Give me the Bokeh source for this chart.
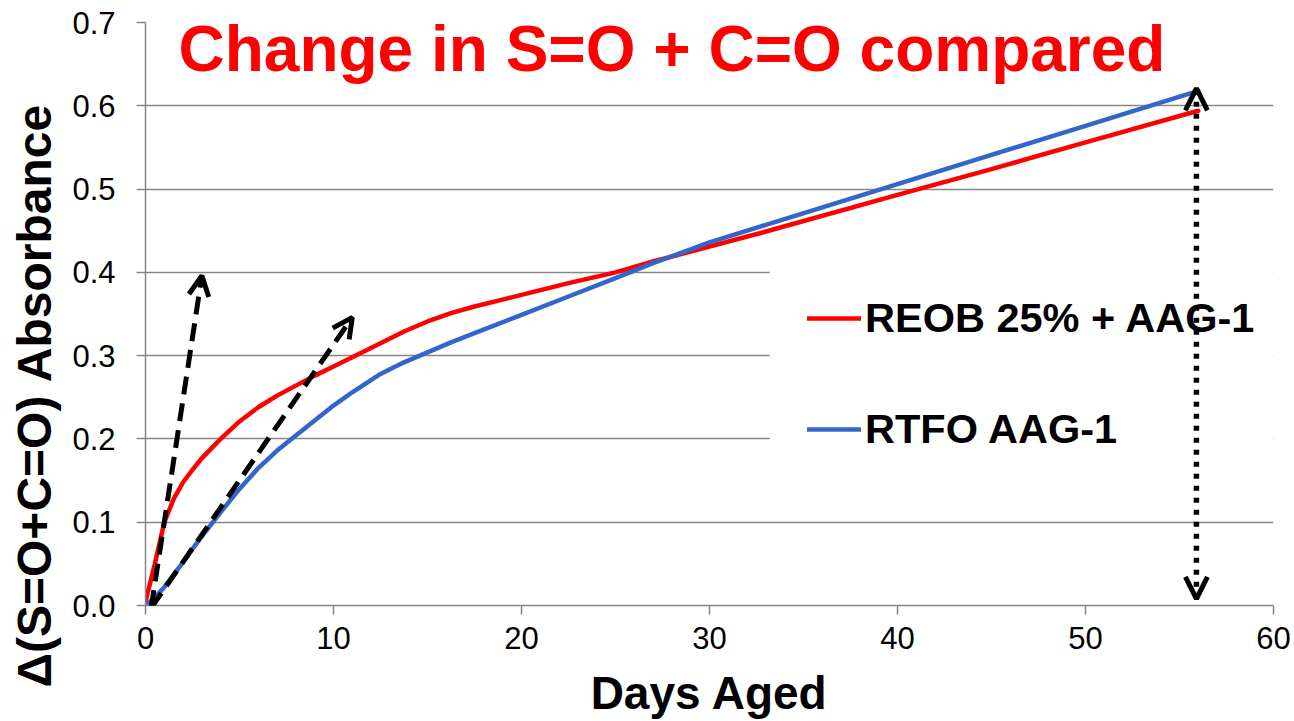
from bokeh.plotting import figure
from bokeh.models import (Range1d, FixedTicker, NumeralTickFormatter, Legend, LegendItem,
                          Label, Arrow, OpenHead, Title, BoxAnnotation)
from bokeh.embed import file_html
from bokeh.resources import INLINE

# ---- data ----
days = [0, 0.5, 1, 1.5, 2, 2.5, 3, 4, 5, 6, 7, 8, 9, 10, 11, 12.5, 13.75, 15, 16.25,
        17.5, 20, 22.5, 25, 27, 30, 33, 40, 45, 50, 56]
reob = [0.005, 0.050, 0.100, 0.128, 0.148, 0.163, 0.177, 0.200, 0.221, 0.238, 0.252,
        0.264, 0.276, 0.287, 0.298, 0.315, 0.329, 0.341, 0.351, 0.359, 0.373, 0.387,
        0.400, 0.413, 0.431, 0.449, 0.493, 0.524, 0.556, 0.594]
rtfo = [0.000, 0.010, 0.022, 0.037, 0.052, 0.068, 0.083, 0.112, 0.140, 0.165, 0.186,
        0.204, 0.222, 0.240, 0.256, 0.278, 0.292, 0.304, 0.316, 0.327, 0.349, 0.371,
        0.393, 0.411, 0.436, 0.457, 0.506, 0.541, 0.576, 0.618]
series_names = ["REOB 25% + AAG-1", "RTFO AAG-1"]
series_colors = ["#FF0000", "#3366CC"]

x_ticks = [0, 10, 20, 30, 40, 50, 60]
y_ticks = [0.0, 0.1, 0.2, 0.3, 0.4, 0.5, 0.6, 0.7]

# dashed arrows (start x, start y, end x, end y)
dash_x0 = [0.3, 0.3]
dash_y0 = [-0.003, -0.003]
dash_x1 = [3.0, 11.0]
dash_y1 = [0.396, 0.346]
# dotted double arrow
dot_x = 55.9
dot_y0 = 0.008
dot_y1 = 0.621

# white background area behind the legend (data units)
legend_bg = dict(left=33.2, right=60, bottom=0.15, top=0.41)

title_text = "Change in S=O + C=O compared"
x_label = "Days Aged"
y_label = "\u0394(S=O+C=O) Absorbance"

FONT = "Liberation Sans"
GRAY = "#868686"

p = figure(width=1292, height=721, output_backend="svg", toolbar_location=None,
           x_range=Range1d(0, 60), y_range=Range1d(0, 0.7),
           min_border_left=145, min_border_right=19, min_border_top=22,
           min_border_bottom=116)
p.outline_line_color = None
p.background_fill_color = "white"
p.border_fill_color = "white"

# axes
for ax in (p.xaxis[0], p.yaxis[0]):
    ax.axis_line_color = GRAY
    ax.axis_line_width = 1.5
    ax.major_tick_line_color = GRAY
    ax.major_tick_line_width = 1.5
    ax.major_tick_out = 9
    ax.major_tick_in = 0
    ax.minor_tick_line_color = None
    ax.major_label_text_font = FONT
    ax.major_label_text_font_size = "31px"
    ax.major_label_text_color = "#000000"

p.xaxis.ticker = FixedTicker(ticks=x_ticks)
p.yaxis.ticker = FixedTicker(ticks=y_ticks)
p.yaxis.formatter = NumeralTickFormatter(format="0.0")
p.xaxis.major_label_standoff = 12
p.yaxis.major_label_standoff = 21

p.xaxis.axis_label = x_label
p.xaxis.axis_label_text_font = FONT
p.xaxis.axis_label_text_font_style = "bold"
p.xaxis.axis_label_text_font_size = "46px"
p.xaxis.axis_label_text_color = "#000000"
p.xaxis.axis_label_standoff = 15

p.xgrid.grid_line_color = None
p.ygrid.grid_line_color = GRAY
p.ygrid.grid_line_width = 1.5

# legend background box (under glyphs and arrows, over the grid)
p.add_layout(BoxAnnotation(left=legend_bg["left"], right=legend_bg["right"],
                           bottom=legend_bg["bottom"], top=legend_bg["top"],
                           fill_color="white", fill_alpha=1.0, line_color=None,
                           level="underlay"))

# series
r1 = p.line(days, reob, line_color=series_colors[0], line_width=4.5, line_join="round",
            line_cap="round")
r2 = p.line(days, rtfo, line_color=series_colors[1], line_width=4.5, line_join="round",
            line_cap="round")

legend = Legend(items=[LegendItem(label=series_names[0], renderers=[r1]),
                       LegendItem(label=series_names[1], renderers=[r2])],
                location=(662, 126), orientation="vertical",
                label_text_font=FONT, label_text_font_style="bold",
                label_text_font_size="41.5px", label_text_color="#000000",
                glyph_width=54, glyph_height=100, label_standoff=4,
                padding=0, spacing=11, margin=0,
                background_fill_alpha=0.0, border_line_color=None)
p.add_layout(legend, "center")

# arrows
for i in range(len(dash_x0)):
    p.add_layout(Arrow(end=OpenHead(size=20, line_width=5, line_color="black"),
                       x_start=dash_x0[i], y_start=dash_y0[i],
                       x_end=dash_x1[i], y_end=dash_y1[i],
                       line_color="black", line_width=5, line_dash="18 9",
                       level="overlay"))

p.add_layout(Arrow(start=OpenHead(size=22, line_width=5, line_color="black"),
                   end=OpenHead(size=22, line_width=5, line_color="black"),
                   x_start=dot_x, y_start=dot_y0, x_end=dot_x, y_end=dot_y1,
                   line_color="black", line_width=5.5, line_dash="5 7",
                   level="overlay"))

# title text inside the plot area
p.add_layout(Label(x=33, y=557, x_units="screen", y_units="screen", text=title_text,
                   text_font=FONT, text_font_style="bold", text_font_size="64px",
                   text_color="#FF0000", text_align="left", text_baseline="alphabetic"))

# y axis title (placed in the left panel)
p.add_layout(Title(text=y_label, align="left", offset=-82, vertical_align="top",
                   standoff=14, text_font=FONT, text_font_style="bold",
                   text_font_size="48px", text_color="#000000"), "left")

open("out.html", "w").write(file_html(p, INLINE))
